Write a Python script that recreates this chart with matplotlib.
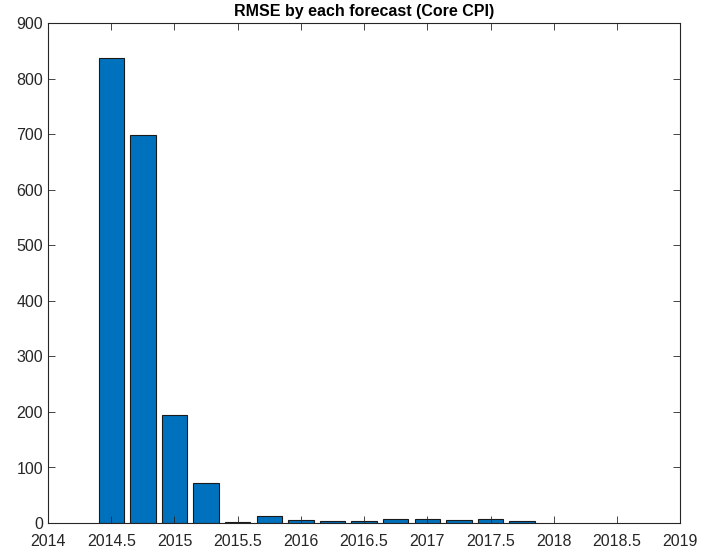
import numpy as np
import matplotlib.pyplot as plt

plt.rcParams['font.family'] = ['Liberation Sans', 'DejaVu Sans']

# forecast origin (quarters) and RMSE for each one
horizons = [2014.5, 2014.75, 2015.0, 2015.25, 2015.5, 2015.75, 2016.0,
            2016.25, 2016.5, 2016.75, 2017.0, 2017.25, 2017.5, 2017.75]
rmse = [837, 698, 194, 72, 2, 13, 6, 4, 4.5, 8, 7, 6, 8, 3]

x_ticks = [2014, 2014.5, 2015, 2015.5, 2016, 2016.5, 2017, 2017.5, 2018, 2018.5, 2019]
x_labels = ['2014', '2014.5', '2015', '2015.5', '2016', '2016.5', '2017',
            '2017.5', '2018', '2018.5', '2019']
y_ticks = np.arange(0, 901, 100)

fig = plt.figure(figsize=(7.07, 5.5), dpi=100)
ax = fig.add_axes([0.068, 0.049, 0.894, 0.909])

ax.bar(horizons, rmse, width=0.2, color='#0072BD', edgecolor='#1a1a1a', linewidth=0.8)

ax.set_xlim(2014, 2019)
ax.set_ylim(0, 900)
ax.set_xticks(x_ticks)
ax.set_xticklabels(x_labels)
ax.set_yticks(y_ticks)
ax.tick_params(direction='in', top=True, right=True, length=5, width=0.6,
               labelsize=11.5, colors='#262626', labelcolor='#262626')
ax.tick_params(axis='x', pad=8)
for s in ax.spines.values():
    s.set_linewidth(0.8)
    s.set_color('#262626')

ax.set_title('RMSE by each forecast (Core CPI)', fontsize=11.5, fontweight='bold', pad=5)

fig.savefig('out.png', dpi=100)
